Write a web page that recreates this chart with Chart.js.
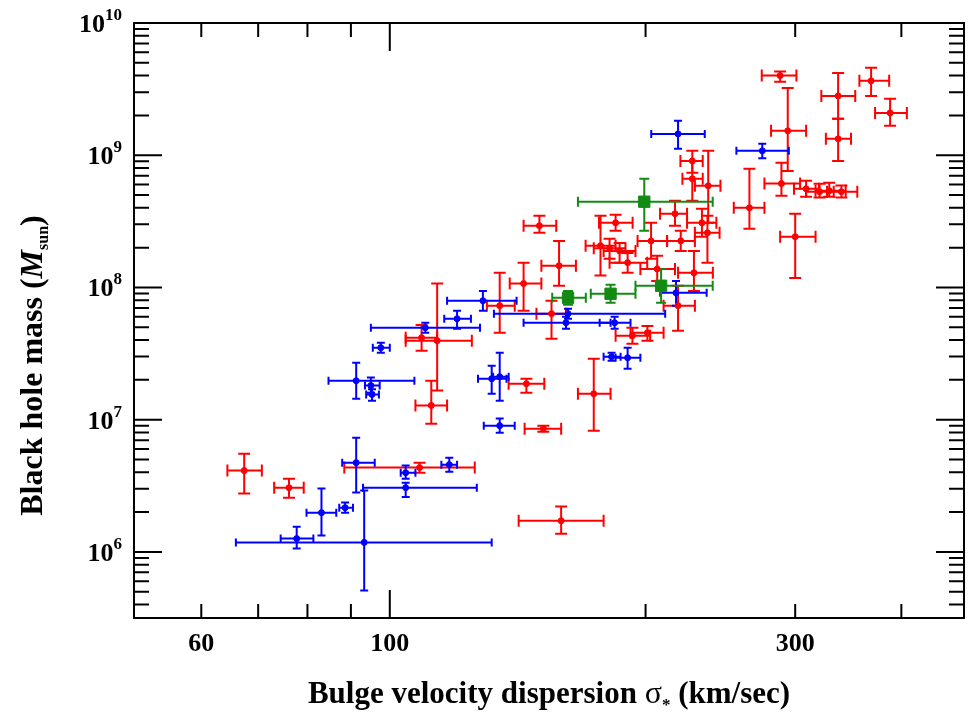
<!DOCTYPE html>
<html>
<head>
<meta charset="UTF-8">
<title>Black hole mass vs sigma</title>
<script src="https://cdn.jsdelivr.net/npm/chart.js"></script>
<style>
  body { margin: 0; background: #fff; }
  #grafico { display: block; }
</style>
</head>
<body>
<canvas id="grafico" width="973" height="713"></canvas>
<script>
// axis ticks
const xMinorTicks = [60, 70, 80, 90, 200, 300, 400];
const xMajorTicks = [100];
const xTickLabels = [60, 100, 300];
const yMajorExp = [6, 7, 8, 9, 10];

// red points: sigma (km/s) and mass (Msun) with error ranges
const redSigma   = [288, 294, 337, 337, 368.5, 388, 289, 265, 300, 309, 320.5, 329, 340, 237, 227, 227, 216.6, 233, 236.5, 220, 203, 184.4, 177, 181.4, 186.4, 190.5, 206.4, 228, 218.4, 193, 201, 158.2, 150, 143.7, 155, 134.7, 144.8, 151.6, 173.8, 113.7, 109, 111.9, 108.4, 67.4, 76.1, 159.1];
const redSigmaLo = [274, 281, 322, 326, 357, 372.5, 276, 254, 288, 299, 309, 317, 327, 228.6, 219.8, 221, 208, 223.8, 228.6, 212, 195.7, 176.3, 170, 173.8, 178.5, 181.4, 197.2, 218.4, 210, 184.4, 192, 150.8, 143.7, 138.4, 148.8, 130.1, 138, 144.1, 166.5, 104.4, 104.4, 107.2, 88.4, 64.4, 73.1, 141.8];
const redSigmaHi = [301, 309, 353, 349, 387, 406, 304, 276, 317, 320, 333, 344, 355, 245, 233.5, 233.5, 223.8, 242.3, 244.4, 228.6, 212, 193.1, 184.4, 189.4, 194.6, 200.9, 216.6, 240, 228.6, 202.5, 210, 165.6, 157, 150.8, 161.2, 140.3, 152, 159.1, 181.9, 124.9, 113.7, 116.8, 125.9, 70.7, 79.2, 178.5];
const redMass    = [4.0e9, 1.53e9, 2.81e9, 1.33e9, 3.65e9, 2.09e9, 6.1e8, 4.0e8, 2.42e8, 5.57e8, 5.3e8, 5.38e8, 5.3e8, 5.87e8, 9.06e8, 6.64e8, 3.61e8, 3.08e8, 2.59e8, 2.25e8, 2.25e8, 3.08e8, 2.07e8, 1.98e8, 1.89e8, 1.54e8, 1.38e8, 1.29e8, 7.28e7, 4.31e7, 4.54e7, 1.46e8, 2.93e8, 1.07e8, 6.33e7, 7.28e7, 1.87e7, 8.55e6, 1.57e7, 3.96e7, 4.17e7, 1.28e7, 4.34e6, 4.12e6, 3.06e6, 1.72e6];
const redMassLo  = [3.6e9, 7.6e8, 1.89e9, 9.06e8, 2.81e9, 1.67e9, 4.93e8, 2.78e8, 1.18e8, 4.85e8, 4.78e8, 4.85e8, 4.78e8, 3.08e8, 7.37e8, 4.52e8, 2.93e8, 2.42e8, 1.54e8, 1.89e8, 1.65e8, 2.68e8, 1.23e8, 1.65e8, 1.54e8, 1.29e8, 1.12e8, 9.4e7, 4.71e7, 3.75e7, 3.96e7, 1.03e8, 2.59e8, 6.67e7, 4.1e7, 4.54e7, 1.6e7, 8.1e6, 8.26e6, 1.66e7, 3.32e7, 9.3e6, 3.97e6, 2.76e6, 2.57e6, 1.37e6];
const redMassHi  = [4.3e9, 3.23e9, 4.19e9, 1.89e9, 4.58e9, 2.67e9, 8.76e8, 7.9e8, 3.61e8, 6.4e8, 6.08e8, 6.2e8, 5.9e8, 1.08e9, 1.08e9, 9.06e8, 4.52e8, 3.94e8, 3.48e8, 2.68e8, 3.08e8, 3.55e8, 3.48e8, 2.33e8, 2.17e8, 1.82e8, 1.74e8, 1.89e8, 1.03e8, 4.96e7, 5.1e7, 2.25e8, 3.48e8, 1.54e8, 7.93e7, 1.29e8, 2.04e7, 9.0e6, 2.89e7, 1.07e8, 5.2e7, 1.97e7, 4.73e6, 5.53e6, 3.58e6, 2.2e6];

// blue points
const blueSigma   = [218.4, 274.4, 217.2, 183.9, 161.2, 128.7, 162.1, 120, 110.1, 97.6, 91.3, 95, 95.3, 131.8, 134.7, 134.7, 182.4, 190.5, 91.3, 104.4, 117.5, 104.4, 88.6, 83.1, 77.7, 93.3];
const blueSigmaLo = [203.1, 255.8, 208.1, 176.6, 143.7, 116.8, 132.6, 115.9, 95, 95.5, 84.7, 93.5, 93.8, 127, 132.3, 129, 178.5, 184.4, 87.9, 103, 115, 93, 87.2, 79.8, 74.4, 65.9];
const blueSigmaHi = [234.8, 294.9, 236, 192, 181.9, 141, 210.9, 124.6, 127.7, 100, 106.9, 97.3, 97.1, 137.2, 138, 140.3, 186.9, 197.2, 96, 107.2, 120, 126.6, 90.5, 86.5, 81.3, 131.8];
const blueMass    = [1.45e9, 1.08e9, 9.1e7, 5.41e7, 5.41e7, 7.93e7, 6.33e7, 5.8e7, 4.96e7, 3.5e7, 1.97e7, 1.81e7, 1.55e7, 2.04e7, 2.11e7, 9.01e6, 2.99e7, 2.94e7, 4.73e6, 3.97e6, 4.57e6, 3.06e6, 2.16e6, 1.98e6, 1.26e6, 1.18e6];
const blueMassLo  = [1.12e9, 9.5e8, 7.28e7, 4.88e7, 4.88e7, 6.67e7, 5.8e7, 4.88e7, 4.54e7, 3.21e7, 1.44e7, 1.6e7, 1.39e7, 1.57e7, 1.39e7, 7.97e6, 2.79e7, 2.43e7, 2.81e6, 3.58e6, 4.04e6, 2.6e6, 1.98e6, 1.33e6, 1.06e6, 5.1e5];
const blueMassHi  = [1.82e9, 1.22e9, 1.12e8, 6.0e7, 6.0e7, 9.4e7, 6.91e7, 6.67e7, 5.41e7, 3.82e7, 2.7e7, 2.08e7, 1.7e7, 2.56e7, 3.21e7, 1.02e7, 3.21e7, 3.5e7, 7.31e6, 4.5e6, 5.16e6, 3.34e6, 2.36e6, 3.01e6, 1.55e6, 2.91e6];

// green squares
const greenSigma   = [199.3, 162.1, 181.9, 208.6];
const greenSigmaLo = [166.5, 155.3, 172.4, 194.6];
const greenSigmaHi = [239.9, 170.1, 194.6, 239.9];
const greenMass    = [4.45e8, 8.36e7, 8.96e7, 1.03e8];
const greenMassLo  = [2.68e8, 7.4e7, 7.66e7, 7.66e7];
const greenMassHi  = [6.64e8, 9.4e7, 1.05e8, 1.38e8];

const serif = '"Liberation Serif", "DejaVu Serif", serif';

function pontos(sig, mass) {
    return sig.map((s, i) => ({ x: s, y: mass[i] }));
}

// error bars drawn under the points
const barrasErro = {
    id: 'barrasErro',
    beforeDatasetsDraw(chart) {
        const ctx = chart.ctx;
        const xs = chart.scales.x, ys = chart.scales.y;
        const a = chart.chartArea;
        ctx.save();
        ctx.beginPath();
        ctx.rect(a.left, a.top, a.right - a.left, a.bottom - a.top);
        ctx.clip();
        chart.data.datasets.forEach(ds => {
            const e = ds.erros;
            const c = ds.cap;
            ctx.strokeStyle = ds.borderColor;
            ctx.lineWidth = 2;
            ds.data.forEach((p, i) => {
                const x = xs.getPixelForValue(p.x), y = ys.getPixelForValue(p.y);
                const x0 = xs.getPixelForValue(e.xLo[i]), x1 = xs.getPixelForValue(e.xHi[i]);
                const y0 = ys.getPixelForValue(e.yLo[i]), y1 = ys.getPixelForValue(e.yHi[i]);
                ctx.beginPath();
                ctx.moveTo(x0, y); ctx.lineTo(x1, y);
                ctx.moveTo(x, y0); ctx.lineTo(x, y1);
                ctx.moveTo(x0, y - c); ctx.lineTo(x0, y + c);
                ctx.moveTo(x1, y - c); ctx.lineTo(x1, y + c);
                ctx.moveTo(x - c, y0); ctx.lineTo(x + c, y0);
                ctx.moveTo(x - c, y1); ctx.lineTo(x + c, y1);
                ctx.stroke();
            });
        });
        ctx.restore();
    }
};

// frame, inward ticks, labels and titles
const eixos = {
    id: 'eixos',
    afterDraw(chart) {
        const ctx = chart.ctx;
        const xs = chart.scales.x, ys = chart.scales.y;
        const a = chart.chartArea;
        ctx.save();
        ctx.strokeStyle = '#000';
        ctx.lineWidth = 2;
        ctx.strokeRect(a.left, a.top, a.right - a.left, a.bottom - a.top);

        ctx.beginPath();
        const xTick = (v, len) => {
            const px = xs.getPixelForValue(v);
            ctx.moveTo(px, a.bottom); ctx.lineTo(px, a.bottom - len);
            ctx.moveTo(px, a.top); ctx.lineTo(px, a.top + len);
        };
        xMinorTicks.forEach(v => xTick(v, 14));
        xMajorTicks.forEach(v => xTick(v, 28));

        const yTick = (v, len) => {
            const py = ys.getPixelForValue(v);
            if (py < a.top - 0.5 || py > a.bottom + 0.5) return;
            ctx.moveTo(a.left, py); ctx.lineTo(a.left + len, py);
            ctx.moveTo(a.right, py); ctx.lineTo(a.right - len, py);
        };
        for (let e = 5; e <= 9; e++) {
            for (let m = 2; m <= 9; m++) yTick(m * Math.pow(10, e), 15);
        }
        yMajorExp.forEach(e => yTick(Math.pow(10, e), 28));
        ctx.stroke();

        // x tick labels
        ctx.fillStyle = '#000';
        ctx.font = 'bold 26px ' + serif;
        ctx.textAlign = 'center';
        ctx.textBaseline = 'alphabetic';
        xTickLabels.forEach(v => {
            ctx.fillText(String(v), xs.getPixelForValue(v), 651);
        });

        // y tick labels 10^n
        yMajorExp.forEach(e => {
            const py = ys.getPixelForValue(Math.pow(10, e));
            const sup = String(e);
            ctx.font = 'bold 17px ' + serif;
            const wSup = ctx.measureText(sup).width;
            ctx.font = 'bold 26px ' + serif;
            const wBase = ctx.measureText('10').width;
            const right = 122;
            ctx.textAlign = 'left';
            ctx.fillText('10', right - wSup - wBase, py + 9);
            ctx.font = 'bold 17px ' + serif;
            ctx.fillText(sup, right - wSup, py - 3);
        });

        // x title
        const partesX = [
            ['Bulge velocity dispersion ', 'bold 31px ' + serif, 0],
            ['\u03c3', '32px ' + serif, 0],
            ['*', 'bold 17px ' + serif, 7],
            [' (km/sec)', 'bold 31px ' + serif, 0]
        ];
        desenhaPartes(ctx, partesX, (a.left + a.right) / 2, 703);

        // y title, rotated
        ctx.save();
        ctx.translate(42, (a.top + a.bottom) / 2 + 45);
        ctx.rotate(-Math.PI / 2);
        const partesY = [
            ['Black hole mass (', 'bold 32px ' + serif, 0],
            ['M', 'italic bold 32px ' + serif, 0],
            ['sun', 'bold 16px ' + serif, 6],
            [')', 'bold 32px ' + serif, 0]
        ];
        desenhaPartes(ctx, partesY, 0, 0);
        ctx.restore();

        ctx.restore();
    }
};

function desenhaPartes(ctx, partes, cx, base) {
    let total = 0;
    partes.forEach(p => { ctx.font = p[1]; total += ctx.measureText(p[0]).width; });
    let x = cx - total / 2;
    ctx.textAlign = 'left';
    partes.forEach(p => {
        ctx.font = p[1];
        ctx.fillText(p[0], x, base + p[2]);
        x += ctx.measureText(p[0]).width;
    });
}

const ctx = document.getElementById('grafico').getContext('2d');

const grafico = new Chart(ctx, {
    type: 'scatter',
    data: {
        datasets: [{
            label: 'red',
            data: pontos(redSigma, redMass),
            erros: { xLo: redSigmaLo, xHi: redSigmaHi, yLo: redMassLo, yHi: redMassHi },
            cap: 6,
            borderColor: '#ff0000',
            backgroundColor: '#ff0000',
            pointRadius: 3,
            pointStyle: 'circle'
        }, {
            label: 'blue',
            data: pontos(blueSigma, blueMass),
            erros: { xLo: blueSigmaLo, xHi: blueSigmaHi, yLo: blueMassLo, yHi: blueMassHi },
            cap: 4,
            borderColor: '#0000ff',
            backgroundColor: '#0000ff',
            pointRadius: 3,
            pointStyle: 'circle'
        }, {
            label: 'green',
            data: pontos(greenSigma, greenMass),
            erros: { xLo: greenSigmaLo, xHi: greenSigmaHi, yLo: greenMassLo, yHi: greenMassHi },
            cap: 5,
            borderColor: '#138a13',
            backgroundColor: '#138a13',
            pointRadius: 8,
            pointStyle: 'rect'
        }]
    },
    options: {
        responsive: false,
        devicePixelRatio: 1,
        animation: false,
        layout: { padding: { left: 134, right: 1, top: 23, bottom: 95 } },
        plugins: {
            legend: { display: false },
            tooltip: { enabled: false }
        },
        scales: {
            x: { type: 'logarithmic', min: 50, max: 474, display: false },
            y: { type: 'logarithmic', min: Math.pow(10, 5.5), max: 1e10, display: false }
        }
    },
    plugins: [barrasErro, eixos]
});
</script>
</body>
</html>
